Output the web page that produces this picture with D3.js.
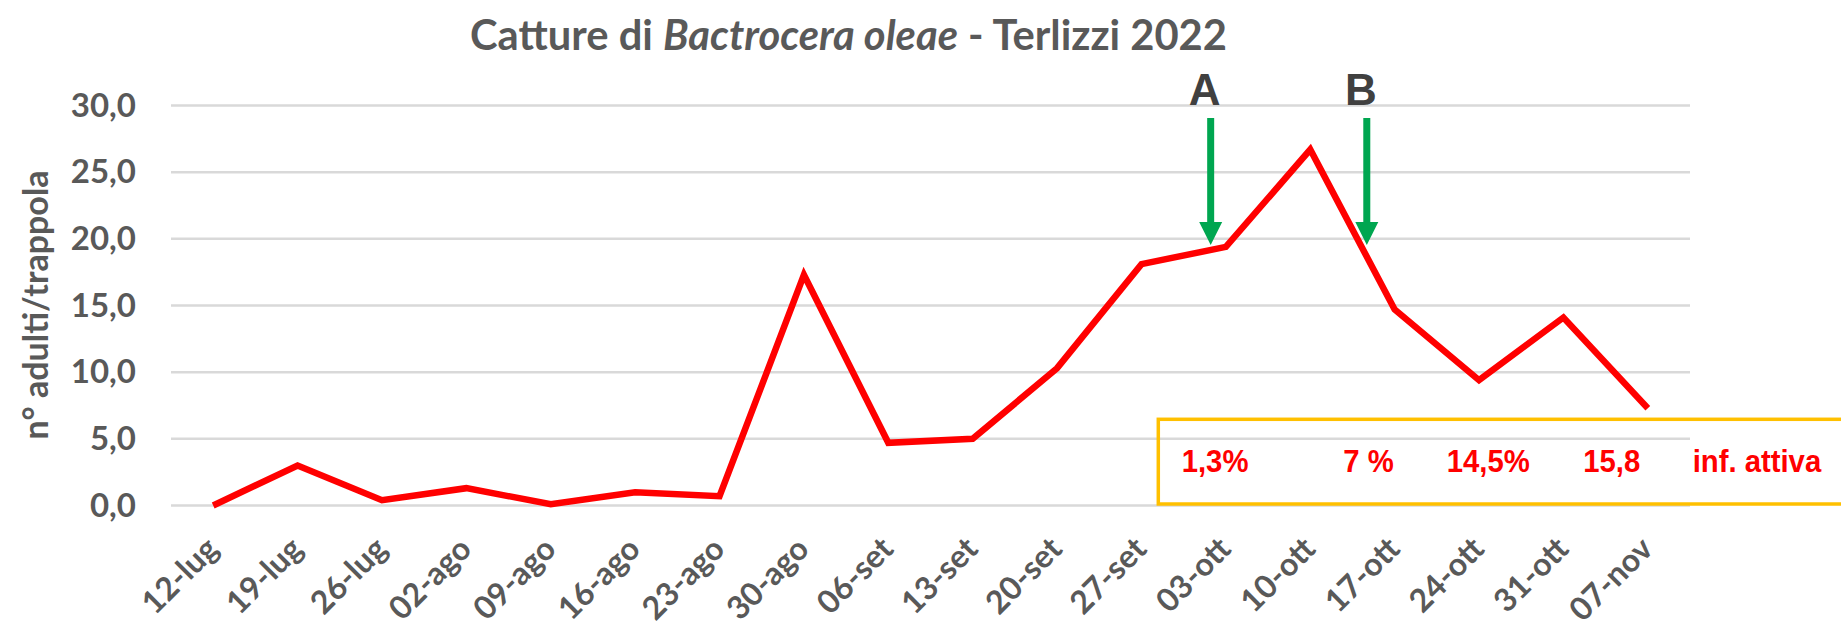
<!DOCTYPE html>
<html>
<head>
<meta charset="utf-8">
<script src="https://cdn.jsdelivr.net/npm/d3@7"></script>
<style>
  html, body { margin: 0; padding: 0; background: #ffffff; }
  svg { display: block; }
</style>
</head>
<body>
<svg id="chart" width="1841" height="626"></svg>
<script>
// ---- data ----
const categories = ["12-lug","19-lug","26-lug","02-ago","09-ago","16-ago","23-ago","30-ago","06-set","13-set","20-set","27-set","03-ott","10-ott","17-ott","24-ott","31-ott","07-nov"];
const catture = [0, 3.0, 0.4, 1.3, 0.1, 1.0, 0.7, 17.3, 4.7, 5.0, 10.3, 18.1, 19.4, 26.7, 14.7, 9.4, 14.1, 7.3];
const yTicks = [0, 5, 10, 15, 20, 25, 30];
const infLabels = ["1,3%", "7 %", "14,5%", "15,8", "inf. attiva"];
const arrowLabels = ["A", "B"];

// ---- layout ----
const W = 1841, H = 626;
const plot = { left: 171, right: 1690, top: 105.5, bottom: 505.5 };
const infX = [1181.7, 1343.3, 1446.7, 1583.3, 1692.7];   // start positions of box texts
const arrowIdx = [11.82, 13.67];                          // fractional category index of arrows
const grey = "#595959";

const svg = d3.select("#chart");
svg.append("rect").attr("width", W).attr("height", H).attr("fill", "#fff");

const x = d3.scaleBand().domain(categories).range([plot.left, plot.right]);
const cx = c => x(c) + x.bandwidth() / 2;
const xi = d3.scaleLinear().domain([0, categories.length - 1])
  .range([cx(categories[0]), cx(categories[categories.length - 1])]);
const y = d3.scaleLinear().domain([0, 30]).range([plot.bottom, plot.top]);

// gridlines
svg.append("g").selectAll("line").data(yTicks).join("line")
  .attr("x1", plot.left).attr("x2", plot.right)
  .attr("y1", d => y(d)).attr("y2", d => y(d))
  .attr("stroke", "#d9d9d9").attr("stroke-width", 2.5);

// y axis labels
const yAxis = d3.axisLeft(y).tickValues(yTicks).tickSize(0).tickPadding(35)
  .tickFormat(d => d3.format(".1f")(d).replace(".", ","));
const gy = svg.append("g").attr("transform", `translate(${plot.left},0)`).call(yAxis);
gy.select(".domain").remove();
gy.selectAll("text").attr("fill", grey).style("font-family", "Lato, 'Open Sans', sans-serif")
  .style("font-weight", 700).style("font-size", "33px");

// y axis title
const yt = svg.append("text")
  .attr("transform", `translate(48,305) rotate(-90)`)
  .attr("text-anchor", "middle")
  .attr("fill", grey)
  .style("font-family", "Lato, 'Open Sans', sans-serif").style("font-weight", 700).style("font-size", "30px")
  .text("n° adulti/trappola");
const ytw = yt.node().getComputedTextLength();
yt.style("font-size", Math.min(34, 30 * 270 / ytw) + "px");

// x axis labels
svg.append("g").selectAll("text").data(categories).join("text")
  .attr("transform", d => `translate(${cx(d) - 1},543) rotate(-45)`)
  .attr("text-anchor", "end")
  .attr("dy", "0.35em")
  .attr("fill", grey)
  .style("font-family", "Lato, 'Open Sans', sans-serif").style("font-weight", 700).style("font-size", "32px")
  .text(d => d);

// line
const line = d3.line().x((d, i) => cx(categories[i])).y(d => y(d));
svg.append("path").datum(catture)
  .attr("d", line)
  .attr("fill", "none").attr("stroke", "#ff0000").attr("stroke-width", 6.5)
  .attr("stroke-linejoin", "miter");

// title
const title = svg.append("text")
  .attr("x", 848.5).attr("y", 50)
  .attr("text-anchor", "middle")
  .attr("fill", grey)
  .style("font-family", "Lato, 'Open Sans', sans-serif").style("font-weight", 700).style("font-size", "34px");
title.append("tspan").text("Catture di ");
title.append("tspan").style("font-style", "italic").text("Bactrocera oleae");
title.append("tspan").text(" - Terlizzi 2022");
const tw = title.node().getComputedTextLength();
title.style("font-size", (34 * 757 / tw) + "px");

// arrows
const green = "#00a650";
const ga = svg.append("g").selectAll("g").data(arrowLabels).join("g")
  .attr("transform", (d, i) => `translate(${xi(arrowIdx[i])},0)`);
ga.append("rect").attr("x", -3.5).attr("y", 118).attr("width", 7).attr("height", 106).attr("fill", green);
ga.append("path").attr("d", "M-11.5,222 L11.5,222 L0,245 Z").attr("fill", green);
ga.append("text")
  .attr("x", -6).attr("y", 105)
  .attr("text-anchor", "middle")
  .attr("fill", "#404040")
  .style("font-family", "'Liberation Sans', Arial, sans-serif").style("font-weight", 700).style("font-size", "44px")
  .text(d => d);

// orange box
svg.append("rect")
  .attr("x", 1158.3).attr("y", 419.3).attr("width", 720).attr("height", 84.7)
  .attr("fill", "none").attr("stroke", "#ffc000").attr("stroke-width", 3.5);

// box labels
svg.append("g").selectAll("text").data(infLabels).join("text")
  .attr("transform", (d, i) => `translate(${infX[i]},471.7) scale(0.915,1)`)
  .attr("fill", "#ff0000")
  .style("font-family", "'Liberation Sans', Arial, sans-serif").style("font-weight", 700).style("font-size", "32px")
  .text(d => d);
</script>
</body>
</html>
